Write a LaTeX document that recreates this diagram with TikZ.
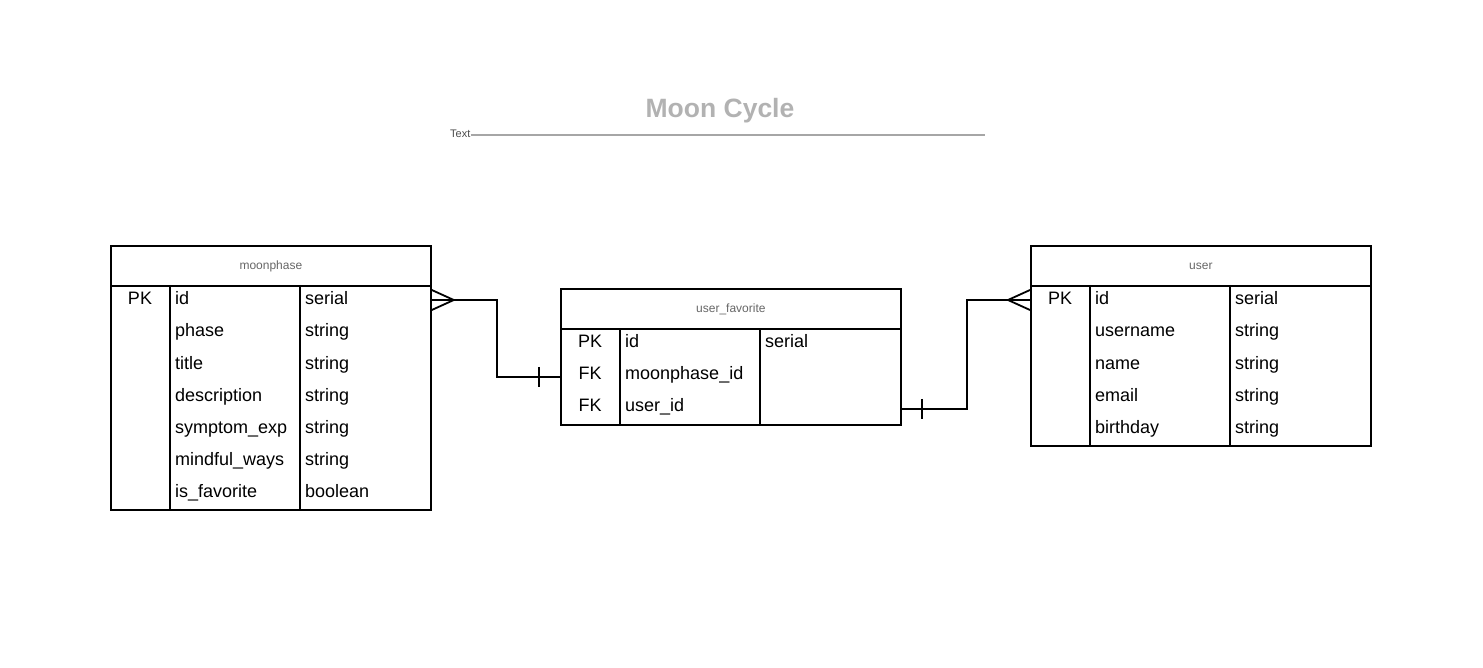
\documentclass[tikz,border=0pt]{standalone}
\usepackage{fontspec}
\setmainfont{Liberation Sans}
\usetikzlibrary{shapes}

\begin{document}
\begin{tikzpicture}[x=1pt,y=-1pt]
        \tikzstyle{every node}=[inner sep=0pt,font=\fontsize{18}{18}\selectfont]
        \tikzstyle{tbox}=[draw,line width=1.8pt,anchor=north west]
        \tikzstyle{head}=[font=\fontsize{12}{12}\selectfont,text=black!60]
        \tikzstyle{cell}=[anchor=base west]
        \tikzstyle{key}=[anchor=base]
        \tikzstyle{rel}=[line width=1.8pt]
        \useasboundingbox (0,0) rectangle (1483,668);
        % title
        \node (title) at (720,111) {\fontsize{26.5}{27}\selectfont\bfseries\color{black!30}Moon Cycle};
        \node[anchor=west,font=\fontsize{11}{11}\selectfont,text=black!70] (textlabel) at (450,134) {Text};
        \coordinate (ruleend) at (985,135);
        \draw[black!35,line width=1.8pt] (textlabel.east |- ruleend) -- (ruleend);
        % moonphase
        \node[tbox,head,minimum width=320pt,minimum height=40pt] (moonphase) at (110,245) {moonphase};
        \node[tbox,minimum width=320pt,minimum height=224pt] (moonphasebody) at (110,285) {};
        \draw[line width=1.8pt] ([xshift=60pt]moonphasebody.north west) -- ([xshift=60pt]moonphasebody.south west);
        \draw[line width=1.8pt] ([xshift=190pt]moonphasebody.north west) -- ([xshift=190pt]moonphasebody.south west);
        \node[key] (mp-key) at (140,305) {PK};
        \foreach \name/\type [count=\i from 0] in {id/serial,phase/string,title/string,description/string,symptom\_exp/string,mindful\_ways/string,is\_favorite/boolean}
        {
          \node[cell] (mp-name-\i) at (175,305+32*\i) {\name};
          \node[cell] (mp-type-\i) at (305,305+32*\i) {\type};
        }
        % user_favorite
        \node[tbox,head,minimum width=340pt,minimum height=40pt] (fav) at (560,288) {user\_favorite};
        \node[tbox,minimum width=340pt,minimum height=96pt] (favbody) at (560,328) {};
        \draw[line width=1.8pt] ([xshift=60pt]favbody.north west) -- ([xshift=60pt]favbody.south west);
        \draw[line width=1.8pt] ([xshift=200pt]favbody.north west) -- ([xshift=200pt]favbody.south west);
        \foreach \k/\name [count=\i from 0] in {PK/id,FK/moonphase\_id,FK/user\_id}
        {
          \node[key] (fav-key-\i) at (590,347+32*\i) {\k};
          \node[cell] (fav-name-\i) at (625,347+32*\i) {\name};
        }
        \node[cell] (fav-type-0) at (765,347) {serial};
        % user
        \node[tbox,head,minimum width=340pt,minimum height=40pt] (user) at (1030,245) {user};
        \node[tbox,minimum width=340pt,minimum height=160pt] (userbody) at (1030,285) {};
        \draw[line width=1.8pt] ([xshift=60pt]userbody.north west) -- ([xshift=60pt]userbody.south west);
        \draw[line width=1.8pt] ([xshift=200pt]userbody.north west) -- ([xshift=200pt]userbody.south west);
        \node[key] (user-key) at (1060,305) {PK};
        \foreach \name/\type [count=\i from 0] in {id/serial,username/string,name/string,email/string,birthday/string}
        {
          \node[cell] (user-name-\i) at (1095,305+32*\i) {\name};
          \node[cell] (user-type-\i) at (1235,305+32*\i) {\type};
        }
        % relations
        \draw[rel] ([yshift=-15pt]moonphasebody.north east) -- ++(65,0) |- (favbody.west);
        \draw[rel] ([yshift=-5pt]moonphasebody.north east) -- ++(22,10) -- ([yshift=-25pt]moonphasebody.north east);
        \draw[rel] ([xshift=-21pt,yshift=10pt]favbody.west) -- ++(0,20);
        \draw[rel] ([yshift=17pt]favbody.south east) -- ++(65,0) |- ([yshift=-15pt]userbody.north west);
        \draw[rel] ([xshift=20pt,yshift=27pt]favbody.south east) -- ++(0,20);
        \draw[rel] ([yshift=-5pt]userbody.north west) -- ++(-22,10) -- ([yshift=-25pt]userbody.north west);
\end{tikzpicture}
\end{document}
